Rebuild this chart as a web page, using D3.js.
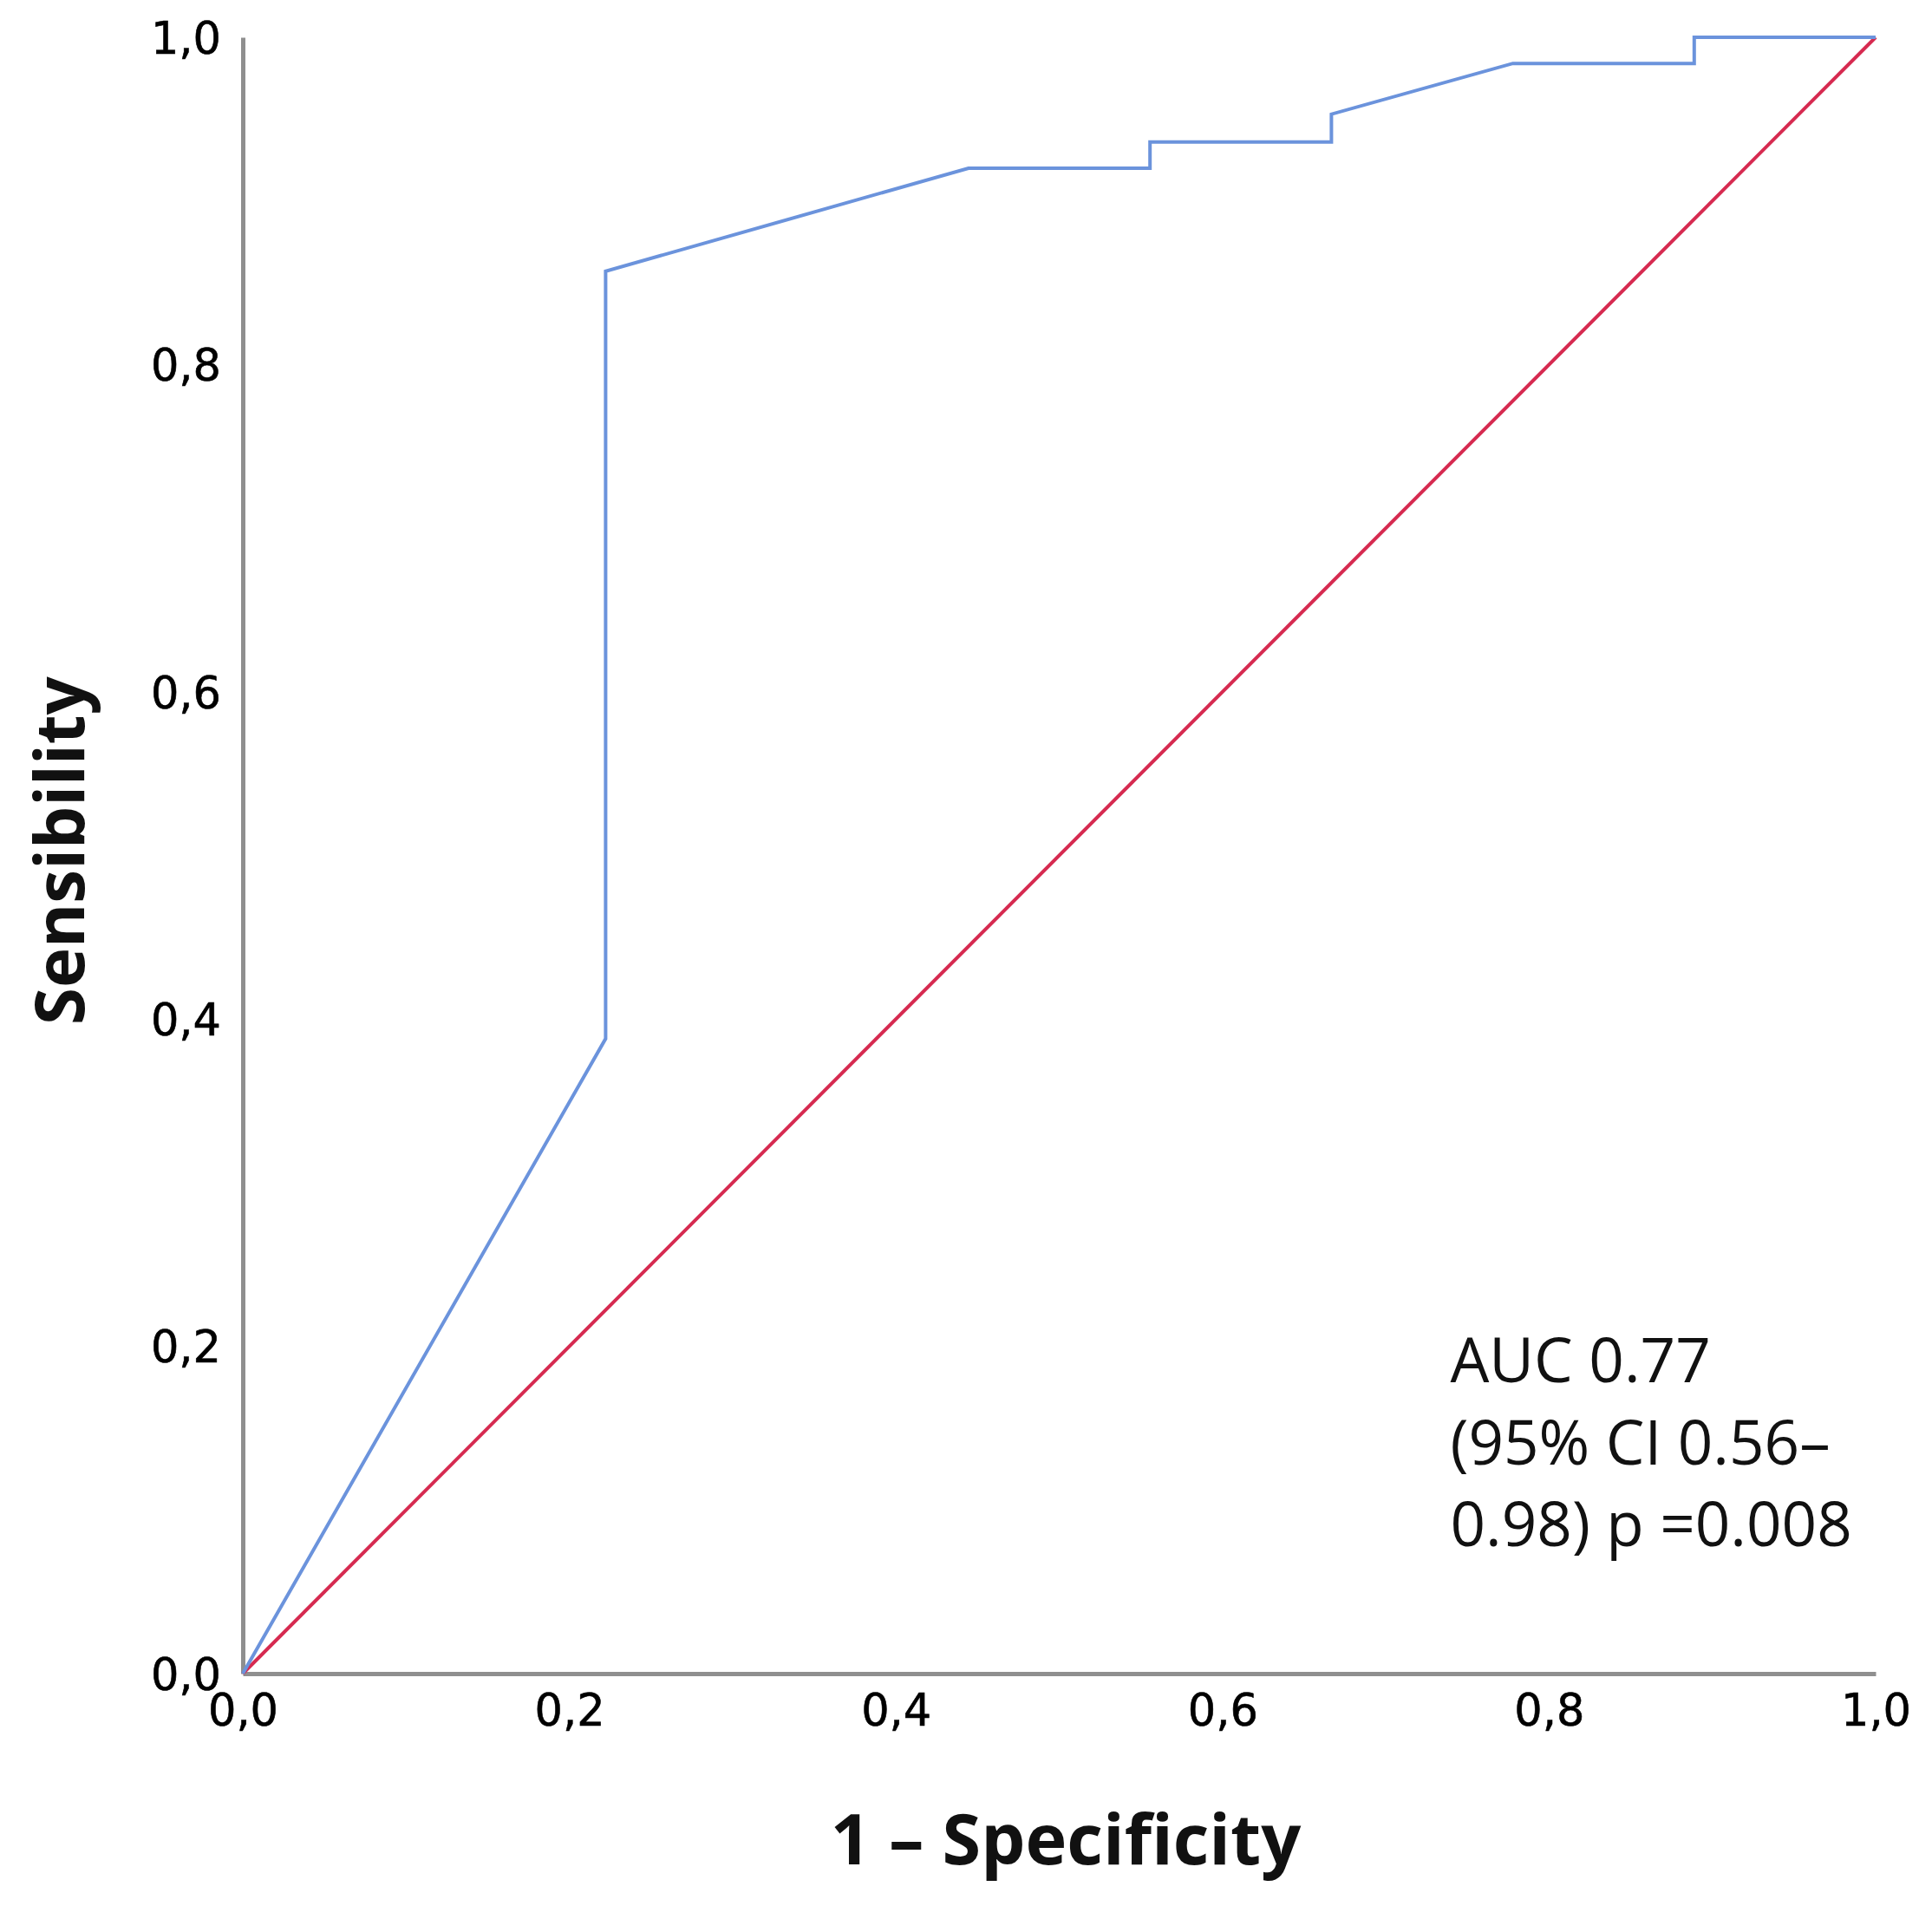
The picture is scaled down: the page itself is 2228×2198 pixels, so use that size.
<!DOCTYPE html>
<html>
<head>
<meta charset="utf-8">
<script src="https://cdn.jsdelivr.net/npm/d3@7"></script>
<style>
  body { margin: 0; background: #fff; }
  svg { display: block; }
</style>
</head>
<body>
<div id="chart"></div>
<script>
// ROC curve data (1 - specificity vs sensibility)
var fpr = [0, 0.2222, 0.2222, 0.4444, 0.5556, 0.5556, 0.6667, 0.6667, 0.7778, 0.8889, 0.8889, 1];
var tpr = [0, 0.388, 0.857, 0.920, 0.920, 0.936, 0.936, 0.953, 0.984, 0.984, 1, 1];
// chance line
var refX = [0, 1];
var refY = [0, 1];
// ticks
var tickValues = [0, 0.2, 0.4, 0.6, 0.8, 1];
var tickLabels = ["0,0", "0,2", "0,4", "0,6", "0,8", "1,0"];
// annotation
var noteLines = ["AUC 0.77", "(95% CI 0.56–", "0.98) p =0.008"];

var svgWidth = 2228;
var svgHeight = 2198;
var margin = { top: 43, right: 65, bottom: 268, left: 280 };
var chartWidth = svgWidth - margin.left - margin.right;
var chartHeight = svgHeight - margin.top - margin.bottom;

var svg = d3.select("#chart").append("svg")
  .attr("width", svgWidth)
  .attr("height", svgHeight);

var chartGroup = svg.append("g")
  .attr("transform", `translate(${margin.left}, ${margin.top})`);

var xScale = d3.scaleLinear().domain([0, 1]).range([0, chartWidth]);
var yScale = d3.scaleLinear().domain([0, 1]).range([chartHeight, 0]);

var fmt = function(d) { return tickLabels[tickValues.indexOf(d)]; };

// y axis
var yAxisG = chartGroup.append("g")
  .call(d3.axisLeft(yScale).tickValues(tickValues).tickFormat(fmt)
    .tickSize(0).tickPadding(25));
// x axis
var xAxisG = chartGroup.append("g")
  .attr("transform", `translate(0, ${chartHeight})`)
  .call(d3.axisBottom(xScale).tickValues(tickValues).tickFormat(fmt)
    .tickSize(0).tickPadding(22));

[xAxisG, yAxisG].forEach(function(g) {
  g.select(".domain").attr("stroke", "#8f8f8f").attr("stroke-width", 5);
  g.selectAll("text")
    .attr("font-family", "DejaVu Sans")
    .attr("font-size", 51)
    .attr("fill", "#000")
    .attr("stroke", "#000")
    .attr("stroke-width", 0.6);
});
yAxisG.selectAll("text").attr("dy", "0.36em");
xAxisG.selectAll("text").attr("dy", "0.74em");

// reference line
var line = d3.line()
  .x(function(d) { return xScale(d[0]); })
  .y(function(d) { return yScale(d[1]); });

chartGroup.append("path")
  .datum(d3.zip(refX, refY))
  .attr("fill", "none")
  .attr("stroke", "#d62a50")
  .attr("stroke-width", 4)
  .attr("d", line);

// ROC curve
chartGroup.append("path")
  .datum(d3.zip(fpr, tpr))
  .attr("fill", "none")
  .attr("stroke", "#6b93dc")
  .attr("stroke-width", 4)
  .attr("stroke-linejoin", "miter")
  .attr("d", line);

// annotation text
chartGroup.selectAll(".note")
  .data(noteLines)
  .enter()
  .append("text")
  .attr("class", "note")
  .attr("x", xScale(0.7395))
  .attr("y", function(d, i) { return yScale(0.178) + i * 94.5; })
  .attr("font-family", "Open Sans")
  .attr("font-size", 71)
  .attr("fill", "#111")
  .text(function(d) { return d; });

// axis titles
svg.append("text")
  .attr("x", 1229)
  .attr("y", 2150)
  .attr("text-anchor", "middle")
  .attr("font-family", "Open Sans")
  .attr("font-weight", "bold")
  .attr("font-size", 81)
  .attr("fill", "#111")
  .text("1 – Specificity");

svg.append("text")
  .attr("transform", "translate(97, 981) rotate(-90)")
  .attr("text-anchor", "middle")
  .attr("font-family", "Open Sans")
  .attr("font-weight", "bold")
  .attr("font-size", 78)
  .attr("fill", "#111")
  .text("Sensibility");
</script>
</body>
</html>
